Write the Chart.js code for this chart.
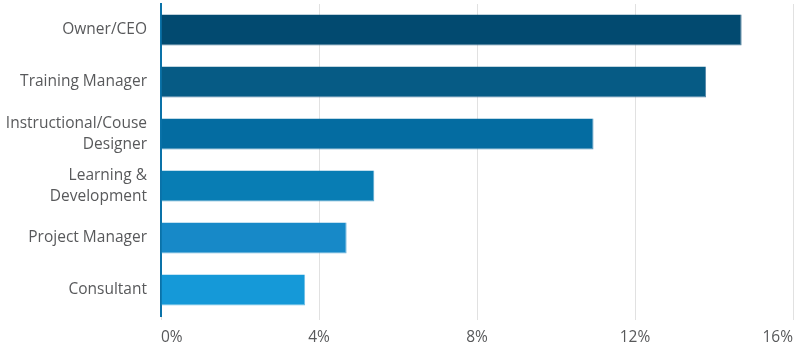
<!DOCTYPE html>
<html>
<head>
<meta charset="utf-8">
<script src="https://cdn.jsdelivr.net/npm/chart.js@4.4.1/dist/chart.umd.min.js"></script>
<style>
html,body{margin:0;padding:0;background:#fff;}
#wrap{width:802px;height:357px;position:relative;}
</style>
</head>
<body>
<div id="wrap"><canvas id="c" width="802" height="357"></canvas></div>
<script>
const categories = ["Owner/CEO", "Training Manager", ["Instructional/Couse", "Designer"], ["Learning &", "Development"], "Project Manager", "Consultant"];
const values = [14.7, 13.8, 10.95, 5.4, 4.7, 3.65];
const barColors = ["#024a70", "#065b85", "#046ca1", "#087db4", "#1789c8", "#1599d8"];
const edgeColors = ["#4f7f9c", "#5585a8", "#4f93bd", "#57a6cc", "#6cb3dc", "#6ebfe6"];
const xTicks = [0, 4, 8, 12, 16];

new Chart(document.getElementById('c'), {
  type: 'bar',
  data: {
    labels: categories,
    datasets: [{
      data: values,
      backgroundColor: barColors,
      borderColor: edgeColors,
      borderWidth: {top: 0, left: 0, right: 1, bottom: 1},
      borderSkipped: false,
      barPercentage: 0.6,
      categoryPercentage: 1.0
    }]
  },
  options: {
    indexAxis: 'y',
    responsive: false,
    animation: false,
    devicePixelRatio: 1,
    layout: {padding: {top: 4, right: 9, bottom: 0, left: 0}},
    plugins: {legend: {display: false}, tooltip: {enabled: false}},
    scales: {
      x: {
        min: 0, max: 16,
        afterBuildTicks: (s) => { s.ticks = xTicks.map(v => ({value: v})); },
        afterFit: (s) => { s.height = 41; },
        ticks: {
          callback: (v) => v + '%',
          color: '#58595b',
          font: {family: '"Open Sans", sans-serif', size: 15.5},
          padding: 8,
          maxRotation: 0,
          align: 'inner'
        },
        grid: {color: '#e1e1e1', lineWidth: 1, tickLength: 4, drawTicks: true},
        border: {display: false}
      },
      y: {
        afterFit: (s) => { s.width = 161; s.paddingTop = 0; s.paddingBottom = 0; },
        ticks: {
          color: '#58595b',
          font: {family: '"Open Sans", sans-serif', size: 15.5, lineHeight: 1.35},
          padding: 6,
          crossAlign: 'near'
        },
        grid: {display: false},
        border: {display: true, color: '#0a72a8', width: 2}
      }
    }
  }
});
</script>
</body>
</html>
